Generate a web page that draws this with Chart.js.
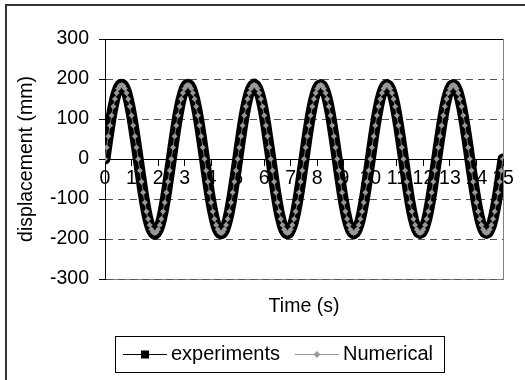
<!DOCTYPE html>
<html>
<head>
<meta charset="utf-8">
<title>displacement x time</title>
<script src="https://cdn.jsdelivr.net/npm/chart.js@4.4.1/dist/chart.umd.min.js"></script>
<style>
    body { margin: 0; background: #fff; }
    canvas { display: block; }
</style>
</head>
<body>
<canvas id="graficoDesloc" width="525" height="380"></canvas>
<script>
// Tempo (s) - amostras a cada 1/16 s
const tempo = [
    0, 0.0625, 0.125, 0.1875, 0.25, 0.3125, 0.375, 0.4375, 0.5, 0.5625, 0.625, 0.6875, 0.75, 0.8125, 0.875, 0.9375,
    1, 1.0625, 1.125, 1.1875, 1.25, 1.3125, 1.375, 1.4375, 1.5, 1.5625, 1.625, 1.6875, 1.75, 1.8125, 1.875, 1.9375,
    2, 2.0625, 2.125, 2.1875, 2.25, 2.3125, 2.375, 2.4375, 2.5, 2.5625, 2.625, 2.6875, 2.75, 2.8125, 2.875, 2.9375,
    3, 3.0625, 3.125, 3.1875, 3.25, 3.3125, 3.375, 3.4375, 3.5, 3.5625, 3.625, 3.6875, 3.75, 3.8125, 3.875, 3.9375,
    4, 4.0625, 4.125, 4.1875, 4.25, 4.3125, 4.375, 4.4375, 4.5, 4.5625, 4.625, 4.6875, 4.75, 4.8125, 4.875, 4.9375,
    5, 5.0625, 5.125, 5.1875, 5.25, 5.3125, 5.375, 5.4375, 5.5, 5.5625, 5.625, 5.6875, 5.75, 5.8125, 5.875, 5.9375,
    6, 6.0625, 6.125, 6.1875, 6.25, 6.3125, 6.375, 6.4375, 6.5, 6.5625, 6.625, 6.6875, 6.75, 6.8125, 6.875, 6.9375,
    7, 7.0625, 7.125, 7.1875, 7.25, 7.3125, 7.375, 7.4375, 7.5, 7.5625, 7.625, 7.6875, 7.75, 7.8125, 7.875, 7.9375,
    8, 8.0625, 8.125, 8.1875, 8.25, 8.3125, 8.375, 8.4375, 8.5, 8.5625, 8.625, 8.6875, 8.75, 8.8125, 8.875, 8.9375,
    9, 9.0625, 9.125, 9.1875, 9.25, 9.3125, 9.375, 9.4375, 9.5, 9.5625, 9.625, 9.6875, 9.75, 9.8125, 9.875, 9.9375,
    10, 10.0625, 10.125, 10.1875, 10.25, 10.3125, 10.375, 10.4375, 10.5, 10.5625, 10.625, 10.6875, 10.75, 10.8125, 10.875, 10.9375,
    11, 11.0625, 11.125, 11.1875, 11.25, 11.3125, 11.375, 11.4375, 11.5, 11.5625, 11.625, 11.6875, 11.75, 11.8125, 11.875, 11.9375,
    12, 12.0625, 12.125, 12.1875, 12.25, 12.3125, 12.375, 12.4375, 12.5, 12.5625, 12.625, 12.6875, 12.75, 12.8125, 12.875, 12.9375,
    13, 13.0625, 13.125, 13.1875, 13.25, 13.3125, 13.375, 13.4375, 13.5, 13.5625, 13.625, 13.6875, 13.75, 13.8125, 13.875, 13.9375,
    14, 14.0625, 14.125, 14.1875, 14.25, 14.3125, 14.375, 14.4375, 14.5, 14.5625, 14.625, 14.6875, 14.75, 14.8125, 14.875, 14.9375,
    15
];

// Deslocamento medido (mm)
const experiments = [
    0, 30, 58, 85, 111, 133, 152, 167, 178, 185, 187, 185, 178, 167, 151, 132, 110, 85, 58, 30,
    1, -28, -57, -85, -110, -133, -152, -167, -178, -185, -188, -185, -178, -167, -152, -133, -110, -85, -57, -29,
    0, 30, 58, 85, 110, 132, 151, 166, 178, 185, 187, 185, 178, 166, 151, 132, 110, 85, 58, 29,
    0, -29, -58, -85, -110, -132, -151, -167, -178, -185, -187, -185, -178, -166, -151, -132, -110, -85, -58, -30,
    -1, 29, 57, 85, 110, 132, 151, 166, 177, 184, 187, 184, 177, 166, 151, 132, 110, 85, 57, 29,
    0, -29, -58, -85, -110, -133, -151, -167, -178, -185, -187, -185, -177, -166, -151, -132, -110, -85, -58, -29,
    0, 29, 58, 85, 110, 132, 151, 166, 177, 184, 186, 184, 177, 166, 151, 132, 110, 84, 57, 29,
    0, -29, -57, -85, -110, -132, -151, -166, -177, -184, -187, -184, -177, -166, -151, -132, -110, -85, -58, -29,
    0, 29, 58, 85, 110, 132, 151, 166, 177, 184, 186, 184, 177, 166, 151, 132, 109, 84, 57, 29,
    0, -29, -57, -84, -110, -132, -151, -166, -177, -184, -186, -184, -177, -166, -151, -132, -110, -85, -57, -29,
    0, 29, 57, 84, 109, 132, 151, 166, 177, 184, 186, 184, 177, 166, 150, 131, 109, 84, 57, 29,
    0, -29, -57, -84, -109, -131, -150, -166, -177, -184, -186, -184, -177, -166, -150, -131, -109, -84, -57, -29,
    0
];

// Deslocamento numérico (mm)
const numerical = [
    0, 29, 57, 84, 109, 131, 150, 165, 176, 183, 185, 183, 176, 165, 150, 131, 109, 84, 57, 29,
    0, -29, -57, -84, -109, -131, -150, -165, -176, -183, -185, -183, -176, -165, -150, -131, -109, -84, -57, -29,
    0, 29, 57, 84, 109, 131, 150, 165, 176, 183, 185, 183, 176, 165, 150, 131, 109, 84, 57, 29,
    0, -29, -57, -84, -109, -131, -150, -165, -176, -183, -185, -183, -176, -165, -150, -131, -109, -84, -57, -29,
    0, 29, 57, 84, 109, 131, 150, 165, 176, 183, 185, 183, 176, 165, 150, 131, 109, 84, 57, 29,
    0, -29, -57, -84, -109, -131, -150, -165, -176, -183, -185, -183, -176, -165, -150, -131, -109, -84, -57, -29,
    0, 29, 57, 84, 109, 131, 150, 165, 176, 183, 185, 183, 176, 165, 150, 131, 109, 84, 57, 29,
    0, -29, -57, -84, -109, -131, -150, -165, -176, -183, -185, -183, -176, -165, -150, -131, -109, -84, -57, -29,
    0, 29, 57, 84, 109, 131, 150, 165, 176, 183, 185, 183, 176, 165, 150, 131, 109, 84, 57, 29,
    0, -29, -57, -84, -109, -131, -150, -165, -176, -183, -185, -183, -176, -165, -150, -131, -109, -84, -57, -29,
    0, 29, 57, 84, 109, 131, 150, 165, 176, 183, 185, 183, 176, 165, 150, 131, 109, 84, 57, 29,
    0, -29, -57, -84, -109, -131, -150, -165, -176, -183, -185, -183, -176, -165, -150, -131, -109, -84, -57, -29,
    0
];

// Marcas dos eixos
const ticksTempo = [0, 1, 2, 3, 4, 5, 6, 7, 8, 9, 10, 11, 12, 13, 14, 15];
const ticksDesloc = [-300, -200, -100, 0, 100, 200, 300];

const fonte = '"Liberation Sans", Arial, sans-serif';

// Ícones da legenda: linha fina com o marcador no meio
function iconeLegenda(cor, marcador) {
    const c = document.createElement('canvas');
    c.width = 44;
    c.height = 12;
    const g = c.getContext('2d');
    g.strokeStyle = cor;
    g.lineWidth = 1;
    g.beginPath();
    g.moveTo(0, 6.5);
    g.lineTo(44, 6.5);
    g.stroke();
    g.fillStyle = cor;
    if (marcador == 'quadrado') {
        g.fillRect(18, 2.5, 8, 8);
    } else {
        g.beginPath();
        g.moveTo(22, 3);
        g.lineTo(25.5, 6.5);
        g.lineTo(22, 10);
        g.lineTo(18.5, 6.5);
        g.closePath();
        g.fill();
    }
    return c;
}
const icones = [iconeLegenda('#000', 'quadrado'), iconeLegenda('#999', 'losango')];

// Bordas do gráfico, da área de plotagem e da legenda
const molduraPlugin = {
    id: 'moldura',
    beforeDraw(chart) {
        const ctx = chart.ctx;
        const area = chart.chartArea;
        ctx.save();
        ctx.fillStyle = '#fff';
        ctx.fillRect(0, 0, chart.width, chart.height);
        ctx.strokeStyle = '#333';
        ctx.lineWidth = 2;
        ctx.strokeRect(6, 5, chart.width + 20, chart.height + 20);
        ctx.strokeStyle = '#808080';
        ctx.lineWidth = 1;
        ctx.strokeRect(area.left + 0.5, area.top + 0.5, area.width, area.height);
        ctx.restore();
    },
    afterLayout(chart) {
        const lg = chart.legend;
        const w = lg.right - lg.left;
        lg.left = 108;
        lg.right = lg.left + w;
    },
    afterDraw(chart) {
        const caixas = chart.legend.legendHitBoxes;
        if (!caixas || !caixas.length) return;
        const primeira = caixas[0];
        const ultima = caixas[caixas.length - 1];
        const x1 = Math.round(primeira.left - 14) + 0.5;
        const x2 = Math.round(ultima.left + ultima.width + 11) + 0.5;
        const y1 = Math.round(primeira.top - 8) + 0.5;
        const ctx = chart.ctx;
        ctx.save();
        ctx.strokeStyle = '#000';
        ctx.lineWidth = 1;
        ctx.strokeRect(x1, y1, x2 - x1, 36);
        ctx.restore();
    }
};

const ctxDesloc = document.getElementById('graficoDesloc');

const chart = new Chart(ctxDesloc, {
    type: 'line',
    data: {
        datasets: [{
            label: 'experiments',
            data: tempo.map((t, i) => ({ x: t, y: experiments[i] })),
            borderColor: '#000',
            backgroundColor: '#000',
            borderWidth: 11,
            borderJoinStyle: 'round',
            borderCapStyle: 'round',
            pointStyle: 'rect',
            pointRadius: 4,
            pointBorderWidth: 0,
            order: 1
        }, {
            label: 'Numerical',
            data: tempo.map((t, i) => ({ x: t, y: numerical[i] })),
            borderColor: '#777',
            backgroundColor: '#999',
            borderWidth: 1,
            pointStyle: 'rectRot',
            pointRadius: 3,
            pointBorderWidth: 0,
            order: 0
        }]
    },
    options: {
        responsive: false,
        animation: false,
        devicePixelRatio: 1,
        layout: {
            padding: { top: 39, right: 22, bottom: 6, left: 0 }
        },
        scales: {
            x: {
                type: 'linear',
                position: { y: 0 },
                min: 0,
                max: 15,
                afterBuildTicks: (scale) => {
                    scale.ticks = ticksTempo.map(v => ({ value: v }));
                },
                ticks: {
                    autoSkip: false,
                    maxRotation: 0,
                    minRotation: 0,
                    padding: 2,
                    color: '#000',
                    font: { family: fonte, size: 19.5 }
                },
                grid: {
                    drawOnChartArea: false,
                    drawTicks: true,
                    tickLength: 6,
                    tickColor: '#000'
                },
                border: { color: '#000', width: 1 }
            },
            y: {
                type: 'linear',
                min: -300,
                max: 300,
                afterBuildTicks: (scale) => {
                    scale.ticks = ticksDesloc.map(v => ({ value: v }));
                },
                afterFit: (scale) => {
                    scale.width = 105;
                },
                ticks: {
                    padding: 10,
                    color: '#000',
                    font: { family: fonte, size: 19.5 }
                },
                grid: {
                    color: (c) => (c.tick && c.tick.value == 300) ? '#000' : '#555',
                    tickLength: 6,
                    tickColor: '#000'
                },
                border: {
                    color: '#000',
                    width: 1,
                    dash: (c) => (c.tick && c.tick.value == 300) ? [] : [7, 5]
                },
                title: {
                    display: true,
                    text: 'displacement (mm)',
                    color: '#000',
                    font: { family: fonte, size: 19.5 },
                    padding: { top: 15, bottom: 0 }
                }
            }
        },
        plugins: {
            title: {
                display: true,
                text: 'Time (s)',
                position: 'bottom',
                fullSize: false,
                weight: 500,
                color: '#000',
                font: { family: fonte, size: 19.5, weight: 'normal' },
                padding: { top: 16, bottom: 4.6 }
            },
            legend: {
                position: 'bottom',
                align: 'start',
                fullSize: false,
                labels: {
                    usePointStyle: true,
                    pointStyleWidth: 32,
                    padding: 21,
                    color: '#000',
                    font: { family: fonte, size: 20 },
                    generateLabels: (c) => c.data.datasets.map((ds, i) => ({
                        text: ds.label,
                        pointStyle: icones[i],
                        fillStyle: ds.borderColor,
                        strokeStyle: ds.borderColor,
                        lineWidth: 0,
                        hidden: false,
                        datasetIndex: i
                    }))
                }
            },
            tooltip: { enabled: false }
        }
    },
    plugins: [molduraPlugin]
});
</script>
</body>
</html>
